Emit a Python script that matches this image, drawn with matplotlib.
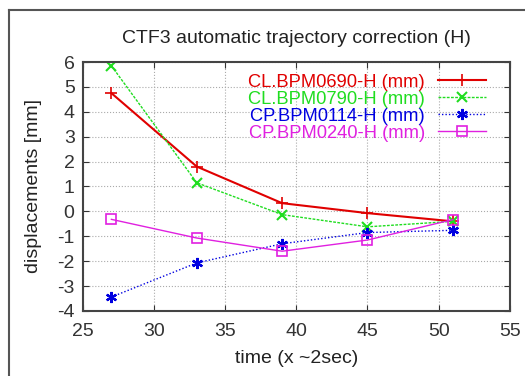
#!/usr/bin/env python3

import matplotlib
matplotlib.use("Agg")
import matplotlib.pyplot as plt
from matplotlib.lines import Line2D

plt.rcParams['font.family'] = ['Liberation Sans', 'DejaVu Sans']
plt.rcParams['axes.unicode_minus'] = False

# time steps (x ~2sec)
t = [27, 33, 39, 45, 51]

cl0690 = [4.75, 1.8, 0.33, -0.07, -0.4]
cl0790 = [5.85, 1.15, -0.13, -0.62, -0.4]
cp0114 = [-3.44, -2.07, -1.3, -0.85, -0.76]
cp0240 = [-0.32, -1.07, -1.6, -1.15, -0.33]

labels = ["CL.BPM0690-H (mm)", "CL.BPM0790-H (mm)",
          "CP.BPM0114-H (mm)", "CP.BPM0240-H (mm)"]

xticks = [25, 30, 35, 40, 45, 50, 55]
yticks = [-4, -3, -2, -1, 0, 1, 2, 3, 4, 5, 6]

fig = plt.figure(figsize=(5.25, 3.76), dpi=100)
ax = fig.add_axes([0.158, 0.173, 0.813, 0.662])

ax.plot(t, cl0690, color='#e00000', lw=1.5, marker='+', ms=8, mew=1.2,
        label=labels[0])
ax.plot(t, cl0790, color='#20dd20', lw=1.0, ls=(0, (2, 1)), marker='x',
        ms=7, mew=1.5, label=labels[1])
ax.plot(t, cp0114, color='#0000e0', lw=1.0, ls=(0, (1, 1.5)),
        marker=(6, 2, 0), ms=8, mew=1.6, label=labels[2])
ax.plot(t, cp0240, color='#e020e0', lw=1.0, marker='s', ms=7.5, mew=1.2,
        mfc='none', label=labels[3])

ax.set_xlim(25, 55)
ax.set_ylim(-4, 6)
ax.set_xticks(xticks)
ax.set_yticks(yticks)
ax.grid(True, color='#aaaaaa', ls=':', lw=0.8)
ax.tick_params(direction='in', length=4, top=True, right=True,
               labelsize=14, colors='#333333', pad=6)
ax.tick_params(axis='x', pad=9)
for s in ax.spines.values():
    s.set_color('#444444')
    s.set_linewidth(1.5)

ax.set_title("CTF3 automatic trajectory correction (H)", fontsize=14,
             color='#222222', pad=14)
ax.set_xlabel("time (x ~2sec)", fontsize=14, color='#222222', labelpad=7)
ax.set_ylabel("displacements [mm]", fontsize=14, color='#222222', labelpad=11)

leg = ax.legend(loc='upper right', bbox_to_anchor=(0.965, 0.99),
                frameon=False, markerfirst=False, fontsize=13.2,
                labelcolor='linecolor', handlelength=2.6,
                handletextpad=0.7, labelspacing=0.0, borderpad=0)

# outer frame
fig.add_artist(Line2D([0.017, 0.017], [0.0, 0.974], color='#555555', lw=1.5))
fig.add_artist(Line2D([0.017, 1.0], [0.974, 0.974], color='#555555', lw=1.5))

fig.savefig("out.png", dpi=100)
